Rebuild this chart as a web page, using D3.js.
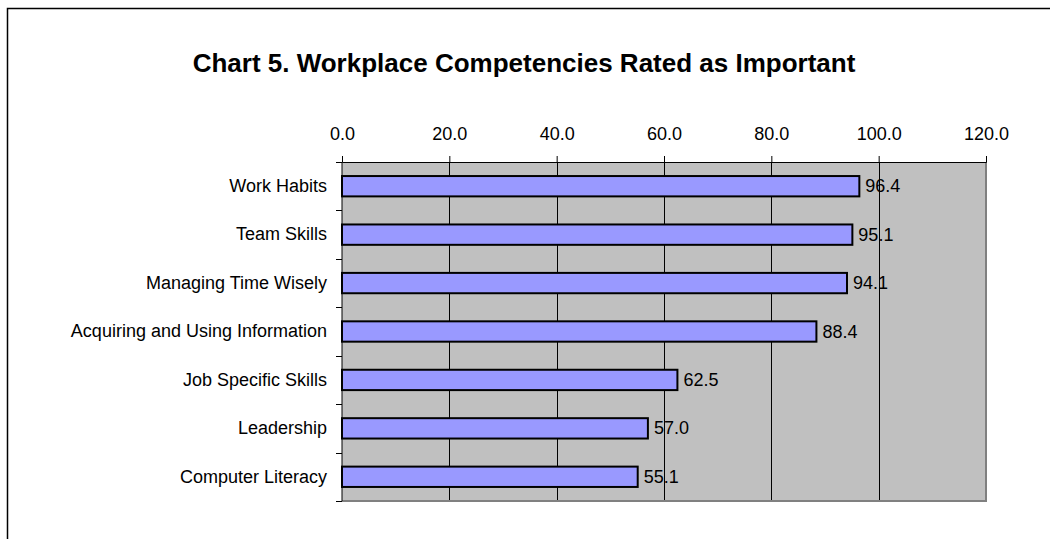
<!DOCTYPE html>
<html>
<head>
<meta charset="utf-8">
<style>
  body { margin: 0; background: #fff; }
  svg text { font-family: "Liberation Sans", Arial, sans-serif; fill: #000; }
  .grid line { stroke: #000; stroke-width: 1px; }
</style>
</head>
<body>
<script src="https://d3js.org/d3.v7.min.js"></script>
<script>
var categories = ["Work Habits", "Team Skills", "Managing Time Wisely", "Acquiring and Using Information",
                  "Job Specific Skills", "Leadership", "Computer Literacy"];
var values = [96.4, 95.1, 94.1, 88.4, 62.5, 57.0, 55.1];
var tickValues = [0, 20, 40, 60, 80, 100, 120];
var title = "Chart 5. Workplace Competencies Rated as Important";

var width = 1050, height = 539;
var margin = {top: 162, right: 64, bottom: 38, left: 342};

var svg = d3.select("body").append("svg")
    .attr("width", width)
    .attr("height", height);

// outer frame (runs off right/bottom edge like the source)
svg.append("rect")
    .attr("x", 7.5).attr("y", 8.5)
    .attr("width", 1060).attr("height", 560)
    .attr("fill", "#fff").attr("stroke", "#000").attr("stroke-width", 1.5);

svg.append("text")
    .attr("x", 524).attr("y", 72)
    .attr("text-anchor", "middle")
    .style("font-size", "26px").style("font-weight", "bold")
    .text(title);

var x = d3.scaleLinear().domain([0, 120]).range([margin.left, width - margin.right]);
var y = d3.scaleBand().domain(categories).range([margin.top, height - margin.bottom]).paddingInner(0.58).paddingOuter(0.29);
var band = d3.scaleBand().domain(categories).range([margin.top, height - margin.bottom]);

// plot area
svg.append("rect")
    .attr("x", x(0)).attr("y", margin.top)
    .attr("width", x(120) - x(0)).attr("height", height - margin.bottom - margin.top)
    .attr("fill", "#c0c0c0");

// gridlines
svg.append("g").attr("class", "grid")
  .selectAll("line")
  .data(tickValues.slice(1, -1))
  .enter().append("line")
    .attr("x1", function(d) { return Math.round(x(d)) + 0.5; })
    .attr("x2", function(d) { return Math.round(x(d)) + 0.5; })
    .attr("y1", margin.top).attr("y2", height - margin.bottom);

// right & bottom plot border (gray)
svg.append("path")
    .attr("d", "M" + x(120) + "," + margin.top + "V" + (height - margin.bottom) + "H" + x(0))
    .attr("fill", "none").attr("stroke", "#808080").attr("stroke-width", 2);

// bars
svg.selectAll(".bar")
    .data(values)
    .enter().append("rect")
    .attr("class", "bar")
    .attr("x", x(0))
    .attr("y", function(d, i) { return y(categories[i]); })
    .attr("width", function(d) { return x(d) - x(0); })
    .attr("height", y.bandwidth())
    .attr("fill", "#9999ff")
    .attr("stroke", "#000")
    .attr("stroke-width", 2);

// value labels
svg.selectAll(".val")
    .data(values)
    .enter().append("text")
    .attr("x", function(d) { return x(d) + 6; })
    .attr("y", function(d, i) { return y(categories[i]) + y.bandwidth() / 2; })
    .attr("dy", "0.34em")
    .style("font-size", "18px")
    .text(function(d) { return d.toFixed(1); });

// top axis
var xAxis = d3.axisTop(x).tickValues(tickValues).tickFormat(d3.format(".1f")).tickSize(6).tickPadding(16);
var gx = svg.append("g").attr("transform", "translate(0," + margin.top + ")").call(xAxis);
gx.selectAll("text").style("font-size", "18px").style("font-family", "Liberation Sans, Arial, sans-serif").attr("fill", "#000");
gx.selectAll("line, path").attr("stroke", "#000");

// left axis: ticks at band boundaries, labels at centers
var ly = svg.append("g").attr("transform", "translate(" + x(0) + ",0)");
ly.append("line").attr("y1", margin.top).attr("y2", height - margin.bottom).attr("stroke", "#000");
var bounds = categories.map(function(c) { return band(c); }).concat([height - margin.bottom]);
ly.selectAll(".tk").data(bounds).enter().append("line")
    .attr("x1", -6).attr("x2", 0)
    .attr("y1", function(d) { return Math.round(d) + 0.5; })
    .attr("y2", function(d) { return Math.round(d) + 0.5; })
    .attr("stroke", "#000");
ly.selectAll(".lbl").data(categories).enter().append("text")
    .attr("x", -15)
    .attr("y", function(d) { return band(d) + band.bandwidth() / 2; })
    .attr("dy", "0.32em")
    .attr("text-anchor", "end")
    .style("font-size", "18px")
    .text(function(d) { return d; });
</script>
</body>
</html>
